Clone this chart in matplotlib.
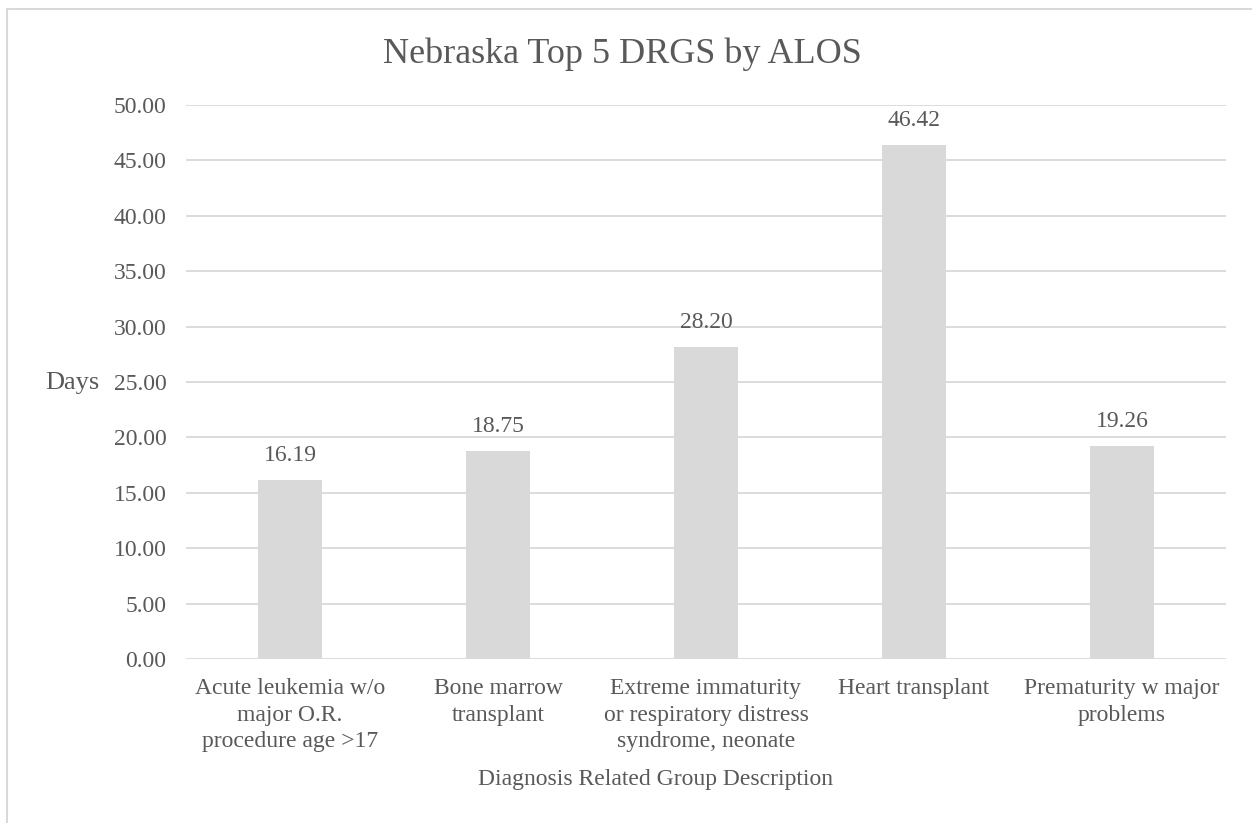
import matplotlib.pyplot as plt
from matplotlib.patches import Rectangle

categories = [
    "Acute leukemia w/o\nmajor O.R.\nprocedure age >17",
    "Bone marrow\ntransplant",
    "Extreme immaturity\nor respiratory distress\nsyndrome, neonate",
    "Heart transplant",
    "Prematurity w major\nproblems",
]
alos_days = [16.19, 18.75, 28.20, 46.42, 19.26]
y_ticks = [0, 5, 10, 15, 20, 25, 30, 35, 40, 45, 50]

plt.rcParams['font.family'] = ['Liberation Serif', 'DejaVu Serif']
text_col = '#595959'
grey = '#d9d9d9'

fig = plt.figure(figsize=(12.52, 8.23), dpi=100)
ax = fig.add_axes([186 / 1252, 164 / 823, 1040 / 1252, 554 / 823])

# outer chart border (only top/left fall inside the canvas)
fig.patches.append(Rectangle((7 / 1252, -0.1), 1.2, (823 - 9) / 823 + 0.1,
                             transform=fig.transFigure, fill=False,
                             edgecolor=grey, linewidth=1.5))

x = range(len(categories))
ax.bar(x, alos_days, width=0.31, color=grey, zorder=2)
for xi, v in zip(x, alos_days):
    ax.annotate(f"{v:.2f}", (xi, v), xytext=(0, 10), textcoords='offset points',
                ha='center', va='bottom', fontsize=17, color=text_col)

ax.set_xlim(-0.5, len(categories) - 0.5)
ax.set_ylim(0, 50)
ax.set_yticks(y_ticks)
ax.set_yticklabels([f"{t:.2f}" for t in y_ticks])
ax.set_xticks(list(x))
ax.set_xticklabels(categories, linespacing=1.33)
ax.tick_params(axis='both', length=0, labelsize=17, labelcolor=text_col)
ax.tick_params(axis='x', pad=14)
ax.tick_params(axis='y', pad=14)
ax.yaxis.grid(True, color=grey, linewidth=1.3, zorder=0)
ax.set_axisbelow(True)
for s in ax.spines.values():
    s.set_visible(False)

fig.text(45 / 1252, 1 - 383 / 823, "Days", fontsize=19, color=text_col,
         ha='left', va='center')
fig.text(655 / 1252, 1 - 780 / 823, "Diagnosis Related Group Description",
         fontsize=17, color=text_col, ha='center', va='center')
fig.text(622 / 1252, 1 - 54 / 823, "Nebraska Top 5 DRGS by ALOS",
         fontsize=26, color=text_col, ha='center', va='center')

fig.savefig('out.png', dpi=100, facecolor='white')
